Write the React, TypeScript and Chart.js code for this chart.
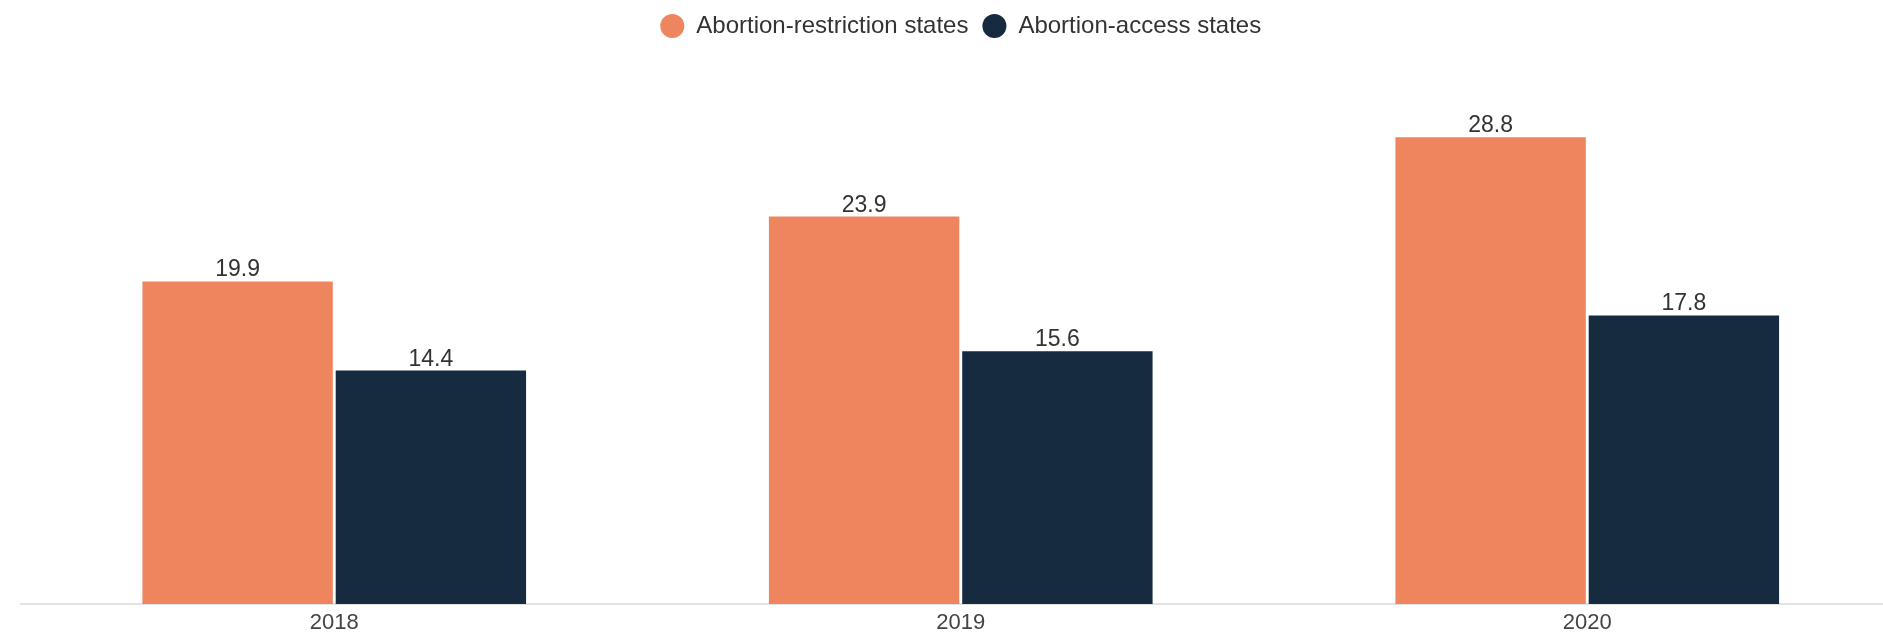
import React, { useEffect, useRef } from "react";
import { Chart, registerables } from "chart.js";

Chart.register(...registerables);

const categories = ["2018", "2019", "2020"];
const seriesNames = ["Abortion-restriction states", "Abortion-access states"];
const restrictionValues = [19.9, 23.9, 28.8];
const accessValues = [14.4, 15.6, 17.8];
const seriesColors = ["#EE855F", "#162A40"];

const FONT = "'Liberation Sans', Arial, sans-serif";

const valueLabels = {
  id: "valueLabels",
  afterDatasetsDraw(chart: any) {
    const ctx = chart.ctx;
    ctx.save();
    ctx.font = `23px ${FONT}`;
    ctx.fillStyle = "#333333";
    ctx.textAlign = "center";
    ctx.textBaseline = "alphabetic";
    chart.data.datasets.forEach((ds: any, di: number) => {
      const meta = chart.getDatasetMeta(di);
      meta.data.forEach((bar: any, i: number) => {
        const v = ds.data[i];
        ctx.fillText(v.toFixed(1), bar.x, bar.y - 5);
      });
    });
    ctx.restore();
  },
};

export default function App() {
  const ref = useRef<HTMLCanvasElement | null>(null);
  useEffect(() => {
    if (!ref.current) return;
    const chart = new Chart(ref.current, {
      type: "bar",
      data: {
        labels: categories,
        datasets: [
          {
            label: seriesNames[0],
            data: restrictionValues,
            backgroundColor: seriesColors[0],
            borderWidth: 0,
            categoryPercentage: 0.617,
            barPercentage: 0.985,
          },
          {
            label: seriesNames[1],
            data: accessValues,
            backgroundColor: seriesColors[1],
            borderWidth: 0,
            categoryPercentage: 0.617,
            barPercentage: 0.985,
          },
        ],
      },
      options: {
        animation: false,
        responsive: true,
        maintainAspectRatio: false,
        layout: { padding: { left: 21, right: 9.5, top: 0, bottom: 0 } },
        plugins: {
          legend: {
            position: "top",
            labels: {
              usePointStyle: true,
              pointStyle: "circle",
              pointStyleWidth: 24,
              boxHeight: 17,
              padding: 14,
              color: "#333333",
              font: { family: FONT, size: 24 },
            },
          },
          tooltip: { enabled: false },
        },
        scales: {
          x: {
            grid: { display: false },
            border: { display: true, color: "#E2E2E2", width: 2 },
            ticks: {
              color: "#444444",
              padding: 0,
              font: { family: FONT, size: 22, lineHeight: 1.0 },
            },
          },
          y: {
            display: false,
            min: 0,
            max: 34.3,
          },
        },
      },
      plugins: [valueLabels],
    });
    return () => chart.destroy();
  }, []);

  return (
    <div
      style={{
        position: "fixed",
        left: 0,
        top: 0,
        width: 1883,
        height: 634,
        overflow: "hidden",
        background: "#ffffff",
      }}
    >
      <div style={{ position: "relative", width: 1910, height: 634 }}>
        <canvas ref={ref} />
      </div>
    </div>
  );
}
